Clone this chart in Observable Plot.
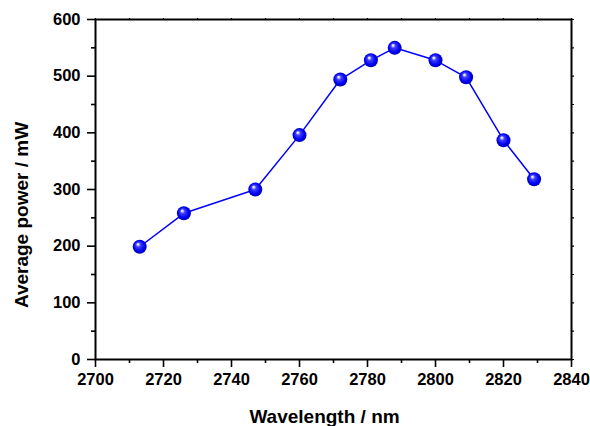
<!DOCTYPE html>
<html><head><meta charset="utf-8">
<script src="https://cdn.jsdelivr.net/npm/d3@7"></script>
<script src="https://cdn.jsdelivr.net/npm/@observablehq/plot@0.6"></script>
<style>
html,body{margin:0;padding:0;background:#fff;}
</style>
</head><body><div id="chart"></div>
<script>
const wavelength = [2713, 2726, 2747, 2760, 2772, 2781, 2788, 2800, 2809, 2820, 2829];
const power = [199, 258, 300, 396, 494, 528, 550, 528, 498, 387, 318];
const xMajorTicks = [2700, 2720, 2740, 2760, 2780, 2800, 2820, 2840];
const xMinorTicks = [2710, 2730, 2750, 2770, 2790, 2810, 2830];
const yMajorTicks = [0, 100, 200, 300, 400, 500, 600];
const yMinorTicks = [50, 150, 250, 350, 450, 550];
const xTitle = "Wavelength / nm";
const yTitle = "Average power / mW";

const data = wavelength.map((w, i) => ({w, p: power[i]}));
const font = "'Liberation Sans', Arial, Helvetica, sans-serif";
const xAll = xMajorTicks.concat(xMinorTicks);
const yAll = yMajorTicks.concat(yMinorTicks);
const fmt = d3.format("d");

const chart = Plot.plot({
  width: 590, height: 426,
  marginLeft: 95, marginRight: 19, marginTop: 19, marginBottom: 67,
  style: {fontFamily: font, fontWeight: "bold", fontSize: "16px", background: "#fff", color: "#000", overflow: "visible"},
  x: {domain: [2700, 2840], label: null},
  y: {domain: [0, 600], label: null},
  marks: [
    Plot.axisX(xMinorTicks, {tickSize: 4, tickFormat: () => "", strokeWidth: 1.6, label: null}),
    Plot.axisX(xMajorTicks, {tickSize: 8, tickPadding: 6, tickFormat: fmt, strokeWidth: 1.6, label: null, fontSize: 16.5}),
    Plot.axisX(xAll, {anchor: "top", tickSize: 2, tickFormat: () => "", strokeWidth: 1.2, label: null}),
    Plot.axisY(yMinorTicks, {tickSize: 4, tickFormat: () => "", strokeWidth: 1.6, label: null}),
    Plot.axisY(yMajorTicks, {tickSize: 8, tickPadding: 7, tickFormat: fmt, strokeWidth: 1.6, label: null, fontSize: 16.5}),
    Plot.axisY(yAll, {anchor: "right", tickSize: 2, tickFormat: () => "", strokeWidth: 1.2, label: null}),
    Plot.frame({stroke: "#000", strokeWidth: 2}),
    Plot.line(data, {x: "w", y: "p", stroke: "#0000ff", strokeWidth: 1.5}),
    Plot.dot(data, {x: "w", y: "p", r: 7, fill: "url(#ball)", stroke: "none"}),
    Plot.text([xTitle], {frameAnchor: "bottom", dy: 63, dx: -9, fontSize: 19, fontWeight: "bold", fill: "#000"}),
    Plot.text([yTitle], {frameAnchor: "left", rotate: -90, textAnchor: "middle", dx: -74, dy: 25.5, fontSize: 19, fontWeight: "bold", fill: "#000"})
  ]
});

const svg = d3.select(chart);
svg.selectAll('g[aria-label="x-axis tick label"] text, g[aria-label="y-axis tick label"] text')
  .style("font-size", "16.5px").style("font-weight", "bold");
const defs = svg.insert("defs", ":first-child");
const g = defs.append("radialGradient").attr("id", "ball")
  .attr("cx", "0.5").attr("cy", "0.5").attr("r", "0.55")
  .attr("fx", "0.36").attr("fy", "0.3");
[[0, "#ffffff"], [0.1, "#e0e0ff"], [0.3, "#4040ff"], [0.7, "#0000f4"], [1, "#00009a"]]
  .forEach(([o, c]) => g.append("stop").attr("offset", o).attr("stop-color", c));

document.getElementById("chart").appendChild(chart);
</script>
</body></html>
